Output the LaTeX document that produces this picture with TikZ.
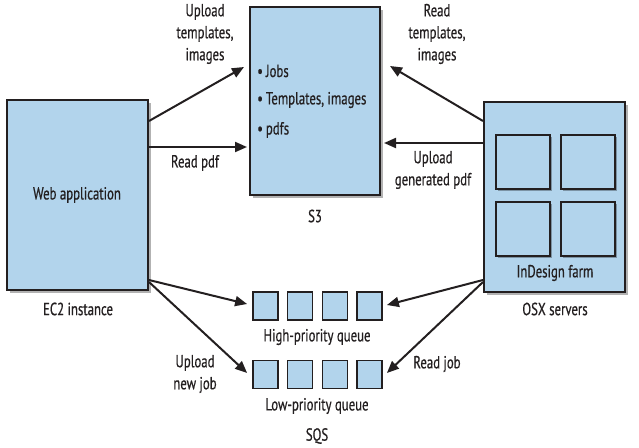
\documentclass[tikz,border=0pt]{standalone}
\usepackage{fontspec}
\setmainfont{PT Sans}[FakeStretch=0.73,FakeBold=0.6]
\usetikzlibrary{arrows.meta,shadows}
\definecolor{boxblue}{RGB}{178,212,236}
\definecolor{ink}{RGB}{35,31,32}
\begin{document}
\begin{tikzpicture}[x=1pt,y=-1pt,
  every node/.style={font=\fontsize{17.5}{22}\selectfont, text=ink},
  bigbox/.style={draw=ink, line width=2pt, fill=boxblue, minimum width=141pt, minimum height=190pt, inner sep=0pt,
     drop shadow={shadow xshift=2.5pt, shadow yshift=-2.5pt, fill=black, opacity=0.3}},
  s3box/.style={bigbox, minimum width=130pt, minimum height=188pt},
  srv/.style={draw=ink, line width=2pt, fill=boxblue, minimum width=54pt, minimum height=54pt, inner sep=0pt,
     drop shadow={shadow xshift=2pt, shadow yshift=-2pt, fill=black, opacity=0.3}},
  qbox/.style={draw=ink, line width=1.8pt, fill=boxblue, minimum width=25pt, minimum height=28pt, inner sep=0pt},
  lbl/.style={align=center, inner sep=0pt},
  arr/.style={draw=ink, line width=2pt, -{Triangle[length=12pt,width=10pt]}}
]
\useasboundingbox (0,0) rectangle (639,447);
% main boxes
\node[bigbox] (web) at (77.5,195) {};
\node[s3box] (s3) at (315,101) {};
\node[bigbox] (farm) at (554.5,197) {};
% servers in farm
\node[srv] (sv1) at (523,162) {};
\node[srv] (sv2) at (588,162) {};
\node[srv] (sv3) at (523,229) {};
\node[srv] (sv4) at (588,229) {};
% queues
\foreach \i/\x in {1/265.5,2/300,3/335,4/369.5}{
  \node[qbox] (qh\i) at (\x,306) {};
  \node[qbox] (ql\i) at (\x,374.5) {};
}
% texts in / under boxes
\node[lbl] (webt) at (77,195) {Web application};
\node[lbl] (ec2) at (78,309) {EC2 instance};
\node[lbl] (s3t) at (315,216) {S3};
\node[lbl, anchor=west] (b1) at (257,71) {\textbullet\,Jobs};
\node[lbl, anchor=west] (b2) at (257,100) {\textbullet\,Templates, images};
\node[lbl, anchor=west] (b3) at (257,130) {\textbullet\,pdfs};
\node[lbl] (farmt) at (555,273) {InDesign farm};
\node[lbl] (osx) at (555,309) {OSX servers};
\node[lbl] (hq) at (317,337) {High-priority queue};
\node[lbl] (lq) at (317,406) {Low-priority queue};
\node[lbl] (sqs) at (317,436) {SQS};
% arrow labels
\node[lbl] (l1) at (205,34) {Upload\\templates,\\images};
\node[lbl] (l2) at (195,163) {Read pdf};
\node[lbl] (l3) at (437,34) {Read\\templates,\\images};
\node[lbl] (l4) at (433,170) {Upload\\generated pdf};
\node[lbl] (l5) at (195,374) {Upload\\new job};
\node[lbl] (l6) at (437,364) {Read job};
% connectors
\draw[arr] ([yshift=-22pt]web.north east) -- ([xshift=-5pt,yshift=-61pt]s3.north west);
\draw[arr] ([yshift=-48pt]web.north east) -- ([xshift=-2pt,yshift=-141pt]s3.north west);
\draw[arr] ([yshift=-20pt]farm.north west) -- ([xshift=9pt,yshift=-60pt]s3.north east);
\draw[arr] ([yshift=-42pt]farm.north west) -- ([xshift=3pt,yshift=-137pt]s3.north east);
\draw[arr] ([yshift=11pt]web.south east) -- ([xshift=-5pt,yshift=2pt]qh1.west);
\draw[arr] ([yshift=9pt]web.south east) -- ([xshift=-5pt,yshift=1.5pt]ql1.west);
\draw[arr] ([yshift=13pt]farm.south west) -- ([xshift=4pt,yshift=1pt]qh4.east);
\draw[arr] ([yshift=11pt]farm.south west) -- ([xshift=4pt,yshift=1.5pt]ql4.east);
\end{tikzpicture}
\end{document}
